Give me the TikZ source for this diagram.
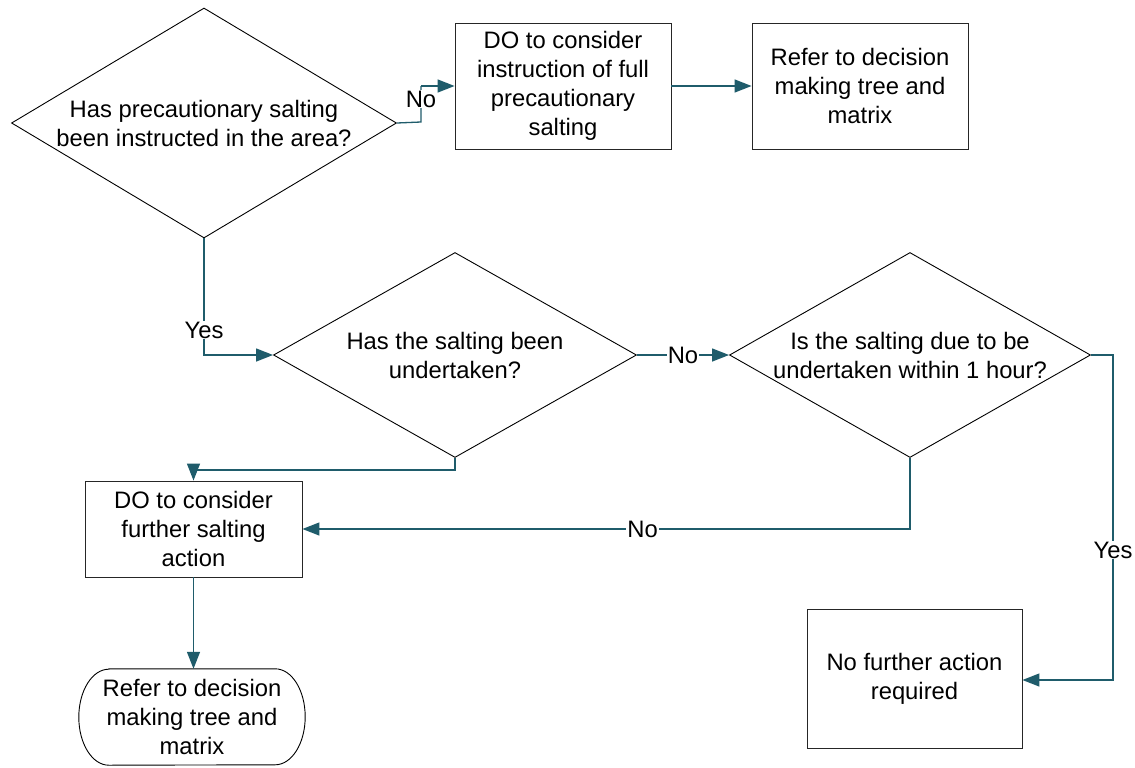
\documentclass[tikz,border=0pt]{standalone}
\usepackage{fontspec}
\setmainfont{Liberation Sans}
\usetikzlibrary{arrows.meta,shapes.geometric}
\definecolor{conn}{HTML}{1F5C6B}
\begin{document}
\begin{tikzpicture}[x=1pt,y=-1pt,
  txt/.style={font=\fontsize{23.8}{29}\selectfont, align=center, inner sep=0pt},
  box/.style={draw=black!85, line width=0.9pt, rectangle, inner sep=0pt, fill=white},
  dia/.style={draw=black, line width=0.9pt, diamond, inner sep=0pt},
  conn/.style={draw=conn, line width=1.3pt, -{Triangle[length=17pt,width=13pt]}},
  plain/.style={draw=conn, line width=1.3pt},
  lab/.style={font=\fontsize{23.8}{29}\selectfont, fill=white, inner sep=1pt}]
\useasboundingbox (0,0) rectangle (1135,768);
\fill[white] (0,0) rectangle (1135,768);

% decisions
\node[dia, minimum width=385pt, minimum height=230pt,
  label={[txt]center:Has precautionary salting\\been instructed in the area?}] (d1) at (204,123) {};
\node[dia, minimum width=363pt, minimum height=205pt,
  label={[txt]center:Has the salting been\\undertaken?}] (d2) at (455,355) {};
\node[dia, minimum width=361pt, minimum height=205pt,
  label={[txt]center:Is the salting due to be\\undertaken within 1 hour?}] (d3) at (910,355) {};

% boxes
\node[box, minimum width=216pt, minimum height=126pt] (a) at (563,86) {};
\node[txt] at (a.center) {DO to consider\\instruction of full\\precautionary\\salting};
\node[box, minimum width=216pt, minimum height=126pt] (b) at (860,86) {};
\node[txt] at (b.center) {Refer to decision\\making tree and\\matrix};
\node[box, minimum width=217pt, minimum height=96pt] (c) at (193.5,529) {};
\node[txt] at (c.center) {DO to consider\\further salting\\action};
\node[box, minimum width=215pt, minimum height=139pt] (d) at (914.5,678.5) {};
\node[txt] at (d.center) {No further action\\required};

% terminal
\node[minimum width=226pt, minimum height=96pt, inner sep=0pt] (t) at (192,717) {};
\draw[black, line width=0.9pt] ([xshift=30pt]t.north west) -- ([xshift=-30pt]t.north east)
  arc[start angle=90, end angle=-90, x radius=30pt, y radius=48pt]
  -- ([xshift=30pt]t.south west)
  arc[start angle=270, end angle=90, x radius=30pt, y radius=48pt] -- cycle;
\node[txt] at (t.center) {Refer to decision\\making tree and\\matrix};

% connectors
\coordinate (k1) at (421,122);
\coordinate (k2) at (421,86);
\draw[plain] (d1.east) -- (k1) -- (k2);
\draw[conn] (k2) -- (a.west);
\node[lab] at (421,99) {No};

\draw[conn] (a.east) -- (b.west);

\coordinate (k3) at (204,355);
\draw[conn] (d1.south) -- (k3) -- (d2.west);
\node[lab] at (204,330) {Yes};

\draw[conn] (d2.east) -- node[lab]{No} (d3.west);

\coordinate (k4) at (455,470);
\coordinate (k5) at (193.5,470);
\draw[conn] (d2.south) -- (k4) -- (k5) -- (c.north);

\coordinate (k6) at (910,529);
\draw[conn] (d3.south) -- (k6) -- node[lab, pos=0.44]{No} (c.east);

\coordinate (k7) at (1113,355);
\coordinate (k8) at (1113,680);
\draw[conn] (d3.east) -- (k7) -- node[lab, pos=0.6]{Yes} (k8) -- (d.east |- k8);

\draw[conn] (c.south) -- (c.south |- t.north);
\end{tikzpicture}
\end{document}
